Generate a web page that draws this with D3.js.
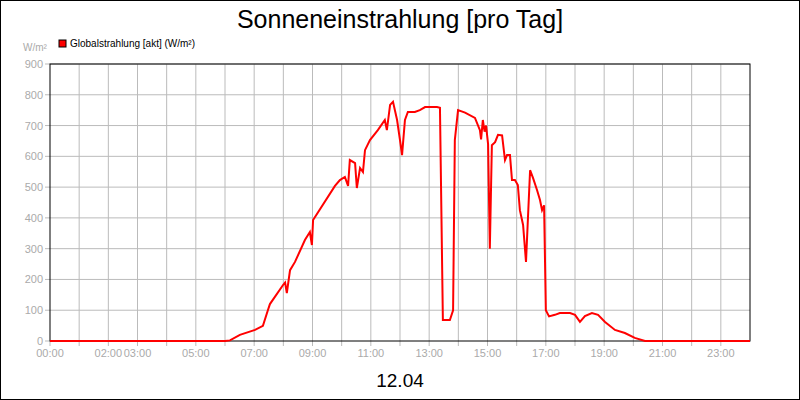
<!DOCTYPE html><html><head><meta charset="utf-8">
<script src="https://cdn.jsdelivr.net/npm/d3@7"></script>
<style>body{margin:0;background:#fff}</style></head><body>
<svg id="c" width="800" height="400"></svg>
<script>
const hours=[0,6.0,6.17,6.51,7.03,7.30,7.47,7.54,7.99,8.06,8.12,8.23,8.40,8.74,8.91,8.98,9.02,9.77,9.94,10.11,10.22,10.28,10.46,10.52,10.63,10.73,10.80,10.97,11.24,11.48,11.55,11.66,11.76,11.90,12.0,12.07,12.17,12.27,12.51,12.68,12.86,13.27,13.37,13.47,13.71,13.82,13.88,13.99,14.23,14.57,14.74,14.78,14.84,14.90,14.95,15.02,15.08,15.15,15.26,15.36,15.50,15.60,15.67,15.77,15.84,15.94,16.04,16.11,16.22,16.32,16.46,16.56,16.70,16.80,16.87,16.94,17.0,17.11,17.31,17.48,17.83,18.0,18.17,18.34,18.58,18.79,19.03,19.37,19.71,20.05,20.40,24];
const values=[0,0,2,20,36,49,100,120,182,190,156,230,257,328,354,312,393,504,523,533,504,588,578,497,562,549,620,653,685,718,685,767,777,718,653,604,718,744,744,750,760,760,758,68,68,100,653,750,742,725,685,655,718,680,700,640,300,636,646,670,668,588,604,604,523,523,507,425,377,257,555,530,490,458,425,441,100,80,85,91,91,85,62,81,91,85,62,36,26,10,0,0];
const yTicks=[0,100,200,300,400,500,600,700,800,900];
const xLabels=[[0,"00:00"],[2,"02:00"],[3,"03:00"],[5,"05:00"],[7,"07:00"],[9,"09:00"],[11,"11:00"],[13,"13:00"],[15,"15:00"],[17,"17:00"],[19,"19:00"],[21,"21:00"],[23,"23:00"]];
const svg=d3.select("#c");
svg.append("rect").attr("x",0.5).attr("y",0.5).attr("width",799).attr("height",399).attr("fill","#fff").attr("stroke","#000");
const x=d3.scaleLinear().domain([0,24]).range([50,750]);
const y=d3.scaleLinear().domain([0,900]).range([341,64]);
const g=svg.append("g");
d3.range(1,24).forEach(h=>g.append("line").attr("x1",x(h)).attr("x2",x(h)).attr("y1",64).attr("y2",346).attr("stroke","#bbb"));
yTicks.slice(1).forEach(v=>g.append("line").attr("x1",45).attr("x2",750).attr("y1",y(v)).attr("y2",y(v)).attr("stroke","#bbb"));
g.append("line").attr("x1",45).attr("x2",50).attr("y1",y(0)).attr("y2",y(0)).attr("stroke","#bbb");
g.append("line").attr("x1",x(0)).attr("x2",x(0)).attr("y1",341).attr("y2",346).attr("stroke","#bbb");
g.append("rect").attr("x",50).attr("y",64).attr("width",700).attr("height",277).attr("fill","none").attr("stroke","#000");
yTicks.forEach(v=>g.append("text").attr("x",43).attr("y",y(v)+4).attr("text-anchor","end").attr("font-family","Liberation Sans, Arial").attr("font-size",11).attr("fill","#aaa").text(v));
xLabels.forEach(([h,t])=>g.append("text").attr("x",x(h)).attr("y",357).attr("text-anchor","middle").attr("font-family","Liberation Sans, Arial").attr("font-size",11).attr("fill","#aaa").text(t));
svg.append("path").datum(hours.map((h,i)=>[h,values[i]])).attr("d",d3.line().x(d=>x(d[0])).y(d=>y(d[1]))).attr("fill","none").attr("stroke","#f00").attr("stroke-width",2);
svg.append("text").attr("x",400).attr("y",28).attr("text-anchor","middle").attr("font-family","Liberation Sans, Arial").attr("font-size",25).text("Sonneneinstrahlung [pro Tag]");
svg.append("text").attr("x",400).attr("y",387).attr("text-anchor","middle").attr("font-family","Liberation Sans, Arial").attr("font-size",19).text("12.04");
svg.append("text").attr("x",23).attr("y",51).attr("font-family","Liberation Sans, Arial").attr("font-size",10).attr("fill","#aaa").text("W/m²");
svg.append("rect").attr("x",59).attr("y",40).attr("width",7).attr("height",7).attr("fill","#f00").attr("stroke","#000");
svg.append("text").attr("x",70).attr("y",47).attr("font-family","Liberation Sans, Arial").attr("font-size",10).text("Globalstrahlung [akt] (W/m²)");
</script></body></html>
